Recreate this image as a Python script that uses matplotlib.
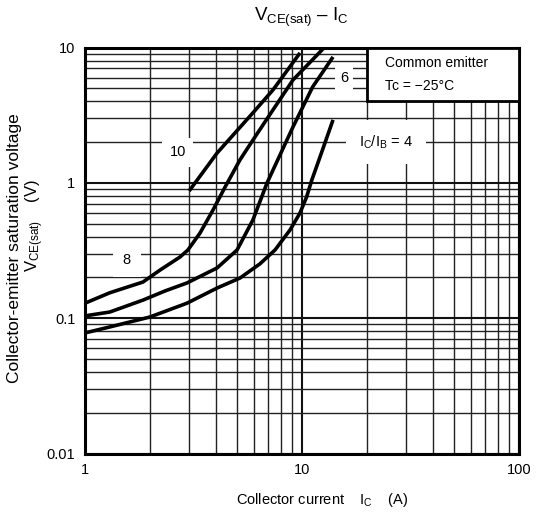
import numpy as np
import matplotlib
matplotlib.use("Agg")
import matplotlib.pyplot as plt
from matplotlib.ticker import LogLocator, NullFormatter, FixedLocator, FixedFormatter
from matplotlib.patches import Rectangle

plt.rcParams['font.family'] = ['Liberation Sans', 'DejaVu Sans']
plt.rcParams['mathtext.fontset'] = 'custom'
plt.rcParams['mathtext.rm'] = 'Liberation Sans'
plt.rcParams['mathtext.it'] = 'Liberation Sans'

# curves, IC (A) vs VCE(sat) (V)
ic_10 = [3.02, 4.06, 5.94, 7.35, 9.79]
vce_10 = [0.871, 1.66, 3.29, 4.86, 9.12]

ic_8 = [1.0, 1.30, 1.85, 2.22, 2.74, 2.98, 3.39, 3.89, 4.42, 5.18, 5.94, 7.35, 9.09, 12.5]
vce_8 = [0.129, 0.154, 0.185, 0.227, 0.283, 0.319, 0.426, 0.630, 0.93, 1.48, 2.07, 3.46, 5.76, 9.77]

ic_6 = [1.0, 1.30, 1.85, 2.34, 2.95, 4.06, 5.02, 5.94, 6.90, 9.09, 11.2, 13.9]
vce_6 = [0.104, 0.111, 0.136, 0.159, 0.182, 0.235, 0.319, 0.532, 0.998, 2.59, 5.12, 8.52]

ic_4 = [1.0, 1.30, 1.99, 2.95, 4.06, 5.18, 6.40, 7.51, 8.81, 9.79, 10.5, 11.1, 12.1, 13.9]
vce_4 = [0.0778, 0.0861, 0.102, 0.129, 0.167, 0.198, 0.252, 0.319, 0.449, 0.599, 0.787, 1.05, 1.55, 2.92]

x_ticks = [1, 10, 100]
x_labels = ['1', '10', '100']
y_ticks = [0.01, 0.1, 1, 10]
y_labels = ['0.01', '0.1', '1', '10']

fig = plt.figure(figsize=(5.39, 5.18), dpi=100)
ax = fig.add_axes([0.1577, 0.1245, 0.8052, 0.7838])
ax.set_xscale('log')
ax.set_yscale('log')
ax.set_xlim(1, 100)
ax.set_ylim(0.01, 10)

ax.xaxis.set_major_locator(FixedLocator(x_ticks))
ax.xaxis.set_major_formatter(FixedFormatter(x_labels))
ax.yaxis.set_major_locator(FixedLocator(y_ticks))
ax.yaxis.set_major_formatter(FixedFormatter(y_labels))
ax.xaxis.set_minor_locator(LogLocator(base=10, subs=range(2, 10)))
ax.yaxis.set_minor_locator(LogLocator(base=10, subs=range(2, 10)))
ax.xaxis.set_minor_formatter(NullFormatter())
ax.yaxis.set_minor_formatter(NullFormatter())
ax.tick_params(which='both', length=0, labelsize=10.5, pad=7)

ax.grid(which='major', color='#111111', lw=1.5)
ax.grid(which='minor', color='#222222', lw=1.0)
ax.set_axisbelow(True)
for s in ax.spines.values():
    s.set_linewidth(2.2)

for ic, vce in [(ic_10, vce_10), (ic_8, vce_8), (ic_6, vce_6), (ic_4, vce_4)]:
    ax.plot(ic, vce, color='black', lw=2.6, zorder=5,
            solid_capstyle='butt', solid_joinstyle='round')

# curve labels with white background that cut the grid
lab = dict(ha='center', va='center', fontsize=10.5, zorder=6)
ax.text(2.68, 1.68, '10', bbox=dict(boxstyle='square,pad=0.5', fc='white', ec='none'), **lab)
ax.text(1.56, 0.27, '8', bbox=dict(boxstyle='square,pad=0.7', fc='white', ec='none'), **lab)
ax.text(15.6, 6.0, '6', bbox=dict(boxstyle='square,pad=0.35', fc='white', ec='none'), **lab)
ax.text(24.4, 2.0, r'$\mathrm{I_C/I_B}$ = 4',
        bbox=dict(boxstyle='square,pad=0.9', fc='white', ec='none'), **lab)

# condition box
ax.add_patch(Rectangle((20, 4), 80, 6, fc='white', ec='black', lw=2.0, zorder=7))
ax.text(24.1, 7.7, 'Common emitter', ha='left', va='center', fontsize=10, zorder=8)
ax.text(24.1, 5.2, 'Tc = \u221225\u00b0C', ha='left', va='center', fontsize=10, zorder=8)

fig.text(0.56, 0.967, r'$\mathrm{V_{CE(sat)}}$' + ' \u2013 ' + r'$\mathrm{I_C}$',
         ha='center', va='center', fontsize=13.5)
fig.text(0.598, 0.035, r'Collector current    $\mathrm{I_C}$    (A)',
         ha='center', va='center', fontsize=10.5)
fig.text(0.026, 0.521, 'Collector-emitter saturation voltage', rotation=90,
         ha='center', va='center', fontsize=12.5)
fig.text(0.064, 0.565, r'$\mathrm{V_{CE(sat)}}$    (V)', rotation=90,
         ha='center', va='center', fontsize=12)

fig.savefig('out.png', dpi=100)
